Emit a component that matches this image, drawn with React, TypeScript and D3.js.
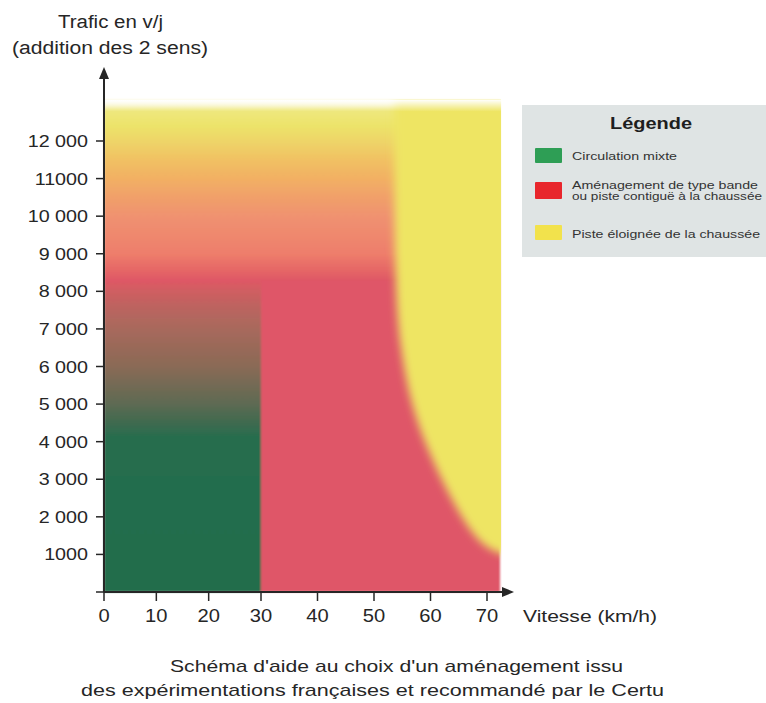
import * as d3 from "d3";

// axis values
const speedTicks = [0, 10, 20, 30, 40, 50, 60, 70];
const trafficTicks = [1000, 2000, 3000, 4000, 5000, 6000, 7000, 8000, 9000, 10000, 11000, 12000];
const trafficLabels = ["1000", "2 000", "3 000", "4 000", "5 000", "6 000", "7 000", "8 000", "9 000", "10 000", "11000", "12 000"];

// zones (km/h, v/j)
const mixedMaxSpeed = 30;
const zoneMaxSpeed = 72.3;
const zoneTopTraffic = 13100;
const bandBottomTraffic = 8300;

// top band, colours from top to bottom
const topBandStops = [
  { traffic: 13100, color: "#fbf9e2" },
  { traffic: 12850, color: "#efe880" },
  { traffic: 12400, color: "#ece36a" },
  { traffic: 12000, color: "#eed568" },
  { traffic: 11500, color: "#f1c163" },
  { traffic: 11000, color: "#f2b064" },
  { traffic: 10500, color: "#f1a06a" },
  { traffic: 10000, color: "#f09270" },
  { traffic: 9000, color: "#ee7e6c" },
  { traffic: 8600, color: "#e66866" },
  { traffic: 8300, color: "#df5866" },
];

// mixed traffic column (0-30 km/h)
const mixedStops = [
  { traffic: 8300, color: "#df5866" },
  { traffic: 8000, color: "#cf5e62" },
  { traffic: 7500, color: "#b9655f" },
  { traffic: 7000, color: "#a8695c" },
  { traffic: 6000, color: "#8a6a56" },
  { traffic: 5000, color: "#5e6b52" },
  { traffic: 4500, color: "#3f6b50" },
  { traffic: 4100, color: "#266d4e" },
  { traffic: 0, color: "#216d4c" },
];

const redColor = "#df5667";
const yellowColor = "#eee564";

// limit of the separated track zone
const separatedBoundary = [
  { speed: 53.6, traffic: 13300 },
  { speed: 53.6, traffic: 8200 },
  { speed: 54.6, traffic: 6500 },
  { speed: 56.5, traffic: 5000 },
  { speed: 59.4, traffic: 3800 },
  { speed: 63.5, traffic: 2500 },
  { speed: 67.5, traffic: 1500 },
  { speed: 70.5, traffic: 1100 },
  { speed: 74, traffic: 950 },
];

const legendItems = [
  { color: "#2e9e55", lines: ["Circulation mixte"], widths: [105] },
  { color: "#e8262c", lines: ["Aménagement de type bande", "ou piste contiguë à la chaussée"], widths: [186, 190] },
  { color: "#f2e24c", lines: ["Piste éloignée de la chaussée"], widths: [188] },
];

const W = 766;
const H = 703;

const x = d3.scaleLinear().domain([0, 30, 70]).range([104, 261, 487]);
const y = d3.scaleLinear().domain([0, 12000]).range([592, 141]);

const font = "'Liberation Sans', Arial, Helvetica, sans-serif";
const ink = "#262626";

const Stretch = (props: {
  x: number;
  y: number;
  sx: number;
  size: number;
  anchor?: string;
  children: string;
}) => (
  <g transform={`translate(${props.x},${props.y}) scale(${props.sx},1)`}>
    <text textAnchor={props.anchor ?? "start"} fontSize={props.size} fill={ink} fontFamily={font}>
      {props.children}
    </text>
  </g>
);

const gradStops = (stops: { traffic: number; color: string }[]) => {
  const y0 = y(stops[0].traffic);
  const y1 = y(stops[stops.length - 1].traffic);
  return stops.map((s, i) => (
    <stop key={i} offset={(y(s.traffic) - y0) / (y1 - y0)} stopColor={s.color} />
  ));
};

const App = () => {
  const boundaryLine = d3
    .line<{ speed: number; traffic: number }>()
    .x((d) => x(d.speed))
    .y((d) => y(d.traffic))
    .curve(d3.curveBasis);
  const first = separatedBoundary[0];
  const last = separatedBoundary[separatedBoundary.length - 1];
  const yellowPath =
    boundaryLine(separatedBoundary) +
    `L${x(last.speed) + 10},${y(last.traffic)}L${x(last.speed) + 10},${y(first.traffic)}Z`;

  const left = x(0);
  const right = x(zoneMaxSpeed);
  const top = y(zoneTopTraffic);
  const bottom = y(0);

  return (
    <svg width={W} height={H} style={{ position: "absolute", left: 0, top: 0 }}>
      <defs>
        <linearGradient
          id="band"
          gradientUnits="userSpaceOnUse"
          x1={0}
          x2={0}
          y1={y(topBandStops[0].traffic)}
          y2={y(topBandStops[topBandStops.length - 1].traffic)}
        >
          {gradStops(topBandStops)}
        </linearGradient>
        <linearGradient
          id="mixed"
          gradientUnits="userSpaceOnUse"
          x1={0}
          x2={0}
          y1={y(mixedStops[0].traffic)}
          y2={y(mixedStops[mixedStops.length - 1].traffic)}
        >
          {gradStops(mixedStops)}
        </linearGradient>
        <linearGradient id="fade" x1={0} x2={0} y1={0} y2={1}>
          <stop offset={0} stopColor="#fff" stopOpacity={1} />
          <stop offset={0.45} stopColor="#fff" stopOpacity={0.55} />
          <stop offset={1} stopColor="#fff" stopOpacity={0} />
        </linearGradient>
        <filter id="soft" x="-5%" y="-5%" width="110%" height="110%">
          <feGaussianBlur stdDeviation={1.2} />
        </filter>
        <filter id="softer" x="-20%" y="-20%" width="140%" height="140%">
          <feGaussianBlur stdDeviation={4} />
        </filter>
        <clipPath id="zone">
          <rect x={left} y={top} width={right - left + 1} height={bottom - top} />
        </clipPath>
      </defs>

      {/* zones */}
      <g filter="url(#soft)">
        <rect x={left} y={top} width={right - left} height={y(bandBottomTraffic) - top + 1} fill="url(#band)" />
        <rect
          x={left}
          y={y(bandBottomTraffic)}
          width={x(mixedMaxSpeed) - left}
          height={bottom - y(bandBottomTraffic)}
          fill="url(#mixed)"
        />
        <rect
          x={x(mixedMaxSpeed)}
          y={y(bandBottomTraffic)}
          width={right - x(mixedMaxSpeed)}
          height={bottom - y(bandBottomTraffic)}
          fill={redColor}
        />
      </g>
      <g clipPath="url(#zone)">
        <path d={yellowPath} fill={yellowColor} filter="url(#softer)" />
        <rect x={left} y={top} width={right - left + 1} height={12} fill="url(#fade)" />
      </g>

      {/* y axis */}
      <line x1={x(0)} x2={x(0)} y1={y(0)} y2={76} stroke={ink} strokeWidth={2} />
      <path d={`M${x(0)},67L${x(0) - 5},79L${x(0) + 5},79Z`} fill={ink} />
      {[0, ...trafficTicks].map((t) => (
        <line key={t} x1={x(0) - 8} x2={x(0)} y1={y(t)} y2={y(t)} stroke={ink} strokeWidth={1.5} />
      ))}
      {trafficTicks.map((t, i) => (
        <Stretch key={t} x={88} y={y(t) + 6} sx={1.16} size={17} anchor="end">
          {trafficLabels[i]}
        </Stretch>
      ))}

      {/* x axis */}
      <line x1={x(0)} x2={505} y1={y(0)} y2={y(0)} stroke={ink} strokeWidth={2} />
      <path d={`M514,${y(0)}L502,${y(0) - 5}L502,${y(0) + 5}Z`} fill={ink} />
      {speedTicks.map((s) => (
        <line key={s} x1={x(s)} x2={x(s)} y1={y(0)} y2={y(0) + 9} stroke={ink} strokeWidth={1.5} />
      ))}
      {speedTicks.map((s) => (
        <Stretch key={s} x={x(s)} y={622} sx={1.12} size={18} anchor="middle">
          {String(s)}
        </Stretch>
      ))}

      {/* axis titles */}
      <text x={58} y={28} fontSize={18} fontFamily={font} fill={ink} textLength={105} lengthAdjust="spacingAndGlyphs">
        Trafic en v/j
      </text>
      <text x={12} y={54} fontSize={18} fontFamily={font} fill={ink} textLength={196} lengthAdjust="spacingAndGlyphs">
        (addition des 2 sens)
      </text>
      <text x={523} y={622} fontSize={17} fontFamily={font} fill={ink} textLength={134} lengthAdjust="spacingAndGlyphs">
        Vitesse (km/h)
      </text>

      {/* caption */}
      <text x={170} y={672} fontSize={17} fontFamily={font} fill={ink} textLength={453} lengthAdjust="spacingAndGlyphs">
        Schéma d'aide au choix d'un aménagement issu
      </text>
      <text x={81} y={696} fontSize={17} fontFamily={font} fill={ink} textLength={583} lengthAdjust="spacingAndGlyphs">
        des expérimentations françaises et recommandé par le Certu
      </text>

      {/* legend */}
      <rect x={522} y={105} width={260} height={152} fill="#dfe4e4" />
      <text x={610} y={129} fontSize={16} fontWeight="bold" fontFamily={font} fill="#1e1e1e" textLength={82} lengthAdjust="spacingAndGlyphs">
        Légende
      </text>
      {legendItems.map((item, i) => {
        const rowTop = [148, 182, 225][i];
        const rowH = [15, 17, 15][i];
        const textBase = [160, 189, 238][i];
        return (
          <g key={i}>
            <rect x={535} y={rowTop} width={27} height={rowH} fill={item.color} rx={1} />
            {item.lines.map((l, j) => (
              <text
                key={j}
                x={572}
                y={textBase + j * 11}
                fontSize={10}
                fontFamily={font}
                fill="#333"
                textLength={item.widths[j]}
                lengthAdjust="spacingAndGlyphs"
              >
                {l}
              </text>
            ))}
          </g>
        );
      })}
    </svg>
  );
};

export default App;
